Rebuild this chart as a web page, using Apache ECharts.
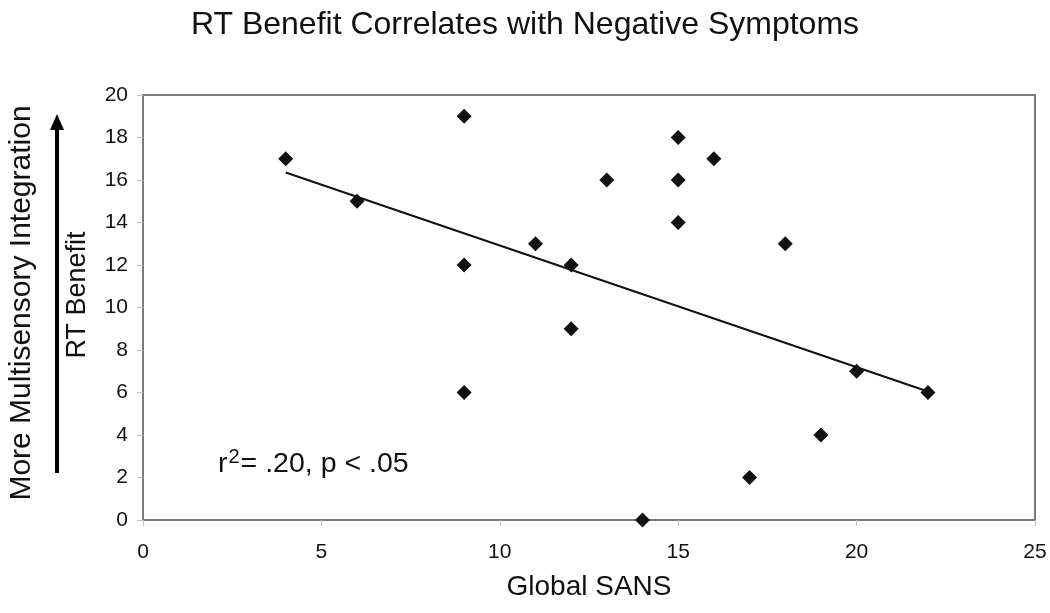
<!DOCTYPE html>
<html>
<head>
<meta charset="utf-8">
<script src="https://cdn.jsdelivr.net/npm/echarts@6/dist/echarts.min.js"></script>
<style>html,body{margin:0;padding:0;background:#fff}#c{width:1050px;height:613px}</style>
</head>
<body>
<div id="c"></div>
<script>
// Data
var sansScores = [4, 6, 9, 9, 9, 11, 12, 12, 13, 15, 15, 15, 16, 18, 20, 22, 19, 17, 14];
var rtBenefit  = [17, 15, 19, 12, 6, 13, 12, 9, 16, 18, 16, 14, 17, 13, 7, 6, 4, 2, 0];
var trendX = [4, 22];
var trendY = [16.35, 6.05];
var xTicks = [0, 5, 10, 15, 20, 25];
var yTicks = [0, 2, 4, 6, 8, 10, 12, 14, 16, 18, 20];

var points = sansScores.map(function (x, i) { return [x, rtBenefit[i]]; });
var trend = trendX.map(function (x, i) { return [x, trendY[i]]; });

var FONT = '"Liberation Sans", Arial, sans-serif';
var chart = echarts.init(document.getElementById('c'), null, {renderer: 'canvas'});
chart.setOption({
  animation: false,
  backgroundColor: '#ffffff',
  title: {
    text: 'RT Benefit Correlates with Negative Symptoms',
    left: 'center', top: 9, padding: [0, 0, 0, 36],
    textStyle: {fontFamily: FONT, fontSize: 32, fontWeight: 'normal', color: '#111'}
  },
  grid: {left: 143, right: 15, top: 95, bottom: 93, containLabel: false,
         show: true, borderColor: '#7a7a7a', borderWidth: 2},
  xAxis: {
    type: 'value', min: xTicks[0], max: xTicks[xTicks.length - 1], interval: 5,
    name: 'Global SANS', nameLocation: 'middle', nameGap: 53,
    nameTextStyle: {fontFamily: FONT, fontSize: 28, color: '#111'},
    axisLine: {show: true, lineStyle: {color: '#7a7a7a', width: 2}},
    axisTick: {show: true, inside: false, length: 6, lineStyle: {color: '#c4c4c4', width: 1}},
    axisLabel: {fontFamily: FONT, fontSize: 21, color: '#111', margin: 22},
    splitLine: {show: false}
  },
  yAxis: {
    type: 'value', min: yTicks[0], max: yTicks[yTicks.length - 1], interval: 2,
    axisLine: {show: true, lineStyle: {color: '#7a7a7a', width: 2}},
    axisTick: {show: true, inside: false, length: 6, lineStyle: {color: '#c4c4c4', width: 1}},
    axisLabel: {fontFamily: FONT, fontSize: 21, color: '#111', margin: 15},
    splitLine: {show: false}
  },
  series: [{
    type: 'line', data: trend, symbol: 'none', silent: true,
    lineStyle: {color: '#111', width: 2}, z: 2
  }, {
    type: 'scatter', data: points, symbol: 'diamond', symbolSize: 15,
    itemStyle: {color: '#111', opacity: 1}, z: 3
  }],
  graphic: [{
    type: 'text', x: 22, y: 303, rotation: Math.PI / 2,
    style: {text: 'More Multisensory Integration', font: '30px ' + FONT, fill: '#111',
      textAlign: 'center', textVerticalAlign: 'middle'}
  }, {
    type: 'text', x: 78, y: 295, rotation: Math.PI / 2,
    style: {text: 'RT Benefit', font: '27px ' + FONT, fill: '#111',
      textAlign: 'center', textVerticalAlign: 'middle'}
  }, {
    type: 'text', x: 218, y: 463,
    style: {
      text: '{a|r}{s|2}{a|= .20, p < .05}',
      textVerticalAlign: 'middle',
      rich: {
        a: {fontFamily: FONT, fontSize: 28.5, fontWeight: 'normal', fill: '#111', color: '#111', lineHeight: 32, verticalAlign: 'bottom'},
        s: {fontFamily: FONT, fontSize: 20, fontWeight: 'normal', fill: '#111', color: '#111', lineHeight: 32, verticalAlign: 'top', padding: [0, 1, 0, 1]}
      }
    }
  }, {
    type: 'line', shape: {x1: 57, y1: 473, x2: 57, y2: 126},
    style: {stroke: '#000', lineWidth: 4}
  }, {
    type: 'polygon', shape: {points: [[57, 114], [50, 130], [64, 130]]},
    style: {fill: '#000'}
  }]
});
</script>
</body>
</html>
